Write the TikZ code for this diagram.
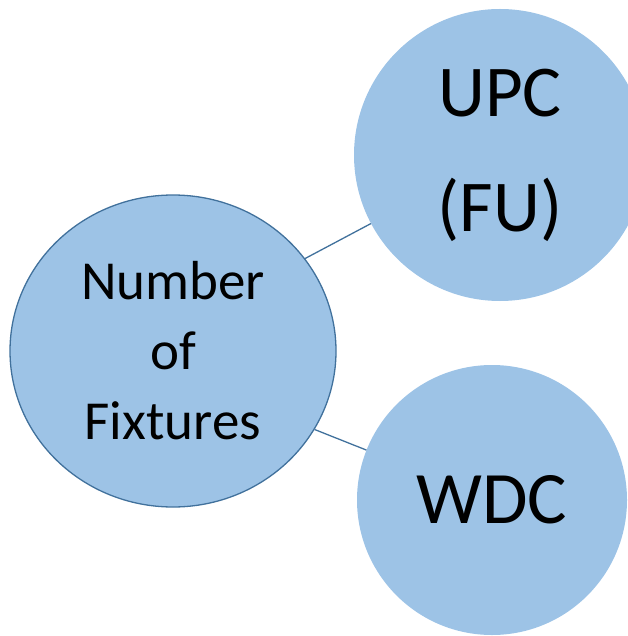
\documentclass[tikz,border=0pt]{standalone}
\usepackage{fontspec}
\usetikzlibrary{shapes.geometric}
\newfontfamily\carl{Carlito}
\definecolor{bubble}{HTML}{9DC3E6}
\definecolor{rim}{HTML}{41719C}
\tikzset{
  bub/.style={circle, fill=bubble, inner sep=0pt, align=center, text=black},
  link/.style={draw=rim, line width=1.3pt}
}
\begin{document}
\begin{tikzpicture}[x=1pt,y=-1pt]
\useasboundingbox (0,0) rectangle (627,636);
\node[ellipse, fill=bubble, draw=rim, line width=1.3pt, minimum width=326pt, minimum height=312pt, inner sep=0pt, align=center,
  font=\carl\fontsize{55}{70}\selectfont]
  (nf) at (173,351) {Number\\of\\Fixtures};
\node[bub, minimum size=292pt, font=\carl\fontsize{73}{115}\selectfont] (upc) at (500,155) {UPC\\(FU)};
\node[bub, minimum size=270pt, font=\carl\fontsize{74}{90}\selectfont] (wdc) at (492,500) {WDC};
\draw[link] (nf.35.2) -- (upc);
\draw[link] (nf.-29.1) -- (wdc);
\end{tikzpicture}
\end{document}
